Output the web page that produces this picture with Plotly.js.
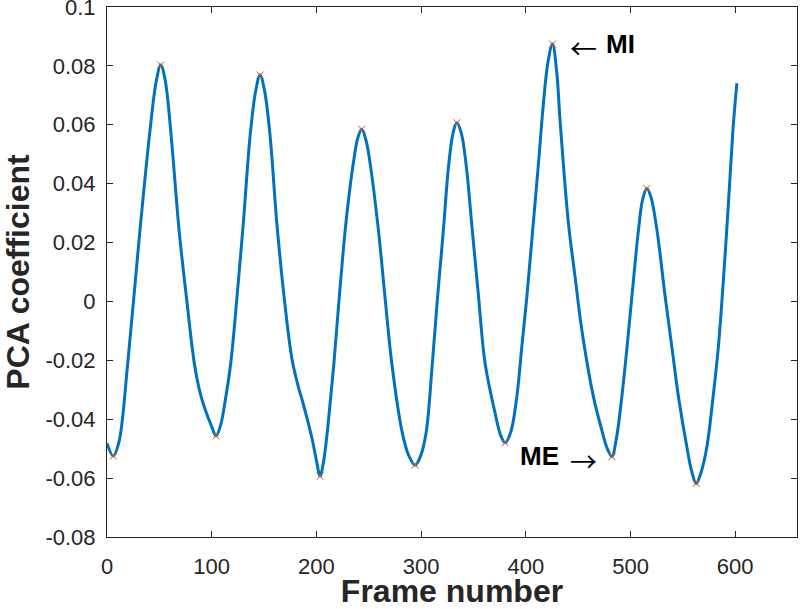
<!DOCTYPE html>
<html>
<head>
<meta charset="utf-8">
<script src="https://cdn.plot.ly/plotly-3.0.1.min.js"></script>
<style>html,body{margin:0;padding:0;background:#fff;}#chart{width:800px;height:609px;}</style>
</head>
<body>
<div id="chart"></div>
<script>
// Curve samples (frame number, PCA coefficient)
const curveFrames = [0, 6, 11.4, 19.8, 31.5, 41.1, 46.8, 51.3, 55.5, 60.8, 68.8, 76, 83.4, 88.9, 94.5, 100, 104.1,
  108.5, 113, 118.5, 124.5, 130.3, 136.6, 142, 146.2, 150.5, 155.7, 162.1, 169, 176.4, 182, 187.6, 192, 196, 200, 203.5,
  207, 210.5, 213.5, 216.5, 221.5, 227.5, 231.5, 235.3, 239.5, 243.3, 247.5, 251.3, 259.2, 265.5, 272, 281.5, 288, 294.3,
  299.5, 304.8, 310.2, 315.5, 321.3, 326.1, 330.5, 334.1, 338.5, 343.6, 348.4, 354.5, 361.1, 370.7, 376, 380.2,
  385.5, 391.4, 396, 401, 406.5, 412.1, 416.5, 421, 425.5, 429.5, 432.8, 440.7, 447, 453.5, 464.6, 472.6, 477.5, 482.2,
  486.5, 491.7, 496.5, 501.3, 507.6, 511.5, 515.6, 519.5, 525.2, 533.1, 539.5, 545.8, 553.8, 558.5, 562.7,
  567, 572.9, 578.5, 584, 591.5, 597.8, 601.6];
const curveValues = [-0.0482, -0.0525, -0.0478, -0.021, 0.0243, 0.0582, 0.0743, 0.0803, 0.0753, 0.0582, 0.0243, 0.001, -0.021, -0.031, -0.0375, -0.0425, -0.0457,
  -0.042, -0.0335, -0.020, 0.003, 0.027, 0.056, 0.0715, 0.0769, 0.0715, 0.0565, 0.027, 0.002, -0.019, -0.028, -0.035, -0.041, -0.0468, -0.054, -0.0593,
  -0.054, -0.044, -0.033, -0.022, 0.000, 0.0243, 0.037, 0.047, 0.0555, 0.0585, 0.0545, 0.0469, 0.0243, 0.0015, -0.021, -0.0437, -0.0522, -0.0556,
  -0.0525, -0.0445, -0.0235, 0.0005, 0.0243, 0.0455, 0.0572, 0.0607, 0.0570, 0.0445, 0.026, 0.003, -0.021, -0.038, -0.0455, -0.048,
  -0.0445, -0.0324, -0.016, 0.0016, 0.024, 0.0469, 0.066, 0.0809, 0.0874, 0.078, 0.061, 0.0265, 0.0085, -0.0097, -0.0324, -0.0437, -0.0497, -0.0527,
  -0.0465, -0.0324, -0.016, 0.0016, 0.0243, 0.0345, 0.0384, 0.0355, 0.0243, 0.0016, -0.0155, -0.0324, -0.0494, -0.0578, -0.0618,
  -0.0585, -0.0494, -0.0335, -0.015, 0.022, 0.0582, 0.0741];

// Detected extrema (red x markers)
const extremaFrames = [6, 51.3, 104.1, 146.2, 203.5, 243.3, 294.3, 334.1, 380.2, 425.5, 482.2, 515.6, 562.7];
const extremaValues = [-0.0525, 0.0803, -0.0457, 0.0769, -0.0593, 0.0585, -0.0556, 0.0607, -0.048, 0.0874, -0.0527, 0.0384, -0.0618];

// Axis ticks
const xTickVals = [0, 100, 200, 300, 400, 500, 600];
const xTickText = ['0', '100', '200', '300', '400', '500', '600'];
const yTickVals = [0.1, 0.08, 0.06, 0.04, 0.02, 0, -0.02, -0.04, -0.06, -0.08];
const yTickText = ['0.1', '0.08', '0.06', '0.04', '0.02', '0', '-0.02', '-0.04', '-0.06', '-0.08'];

// Text labels and their arrows (anchor frame, anchor value)
const labelTexts = ['<b>MI</b>', '<b>ME</b>'];
const labelFrames = [476, 433];
const labelValues = [0.0874, -0.0525];
const labelAnchors = ['left', 'right'];
const arrowTexts = ['\u2190', '\u2192'];
const arrowFrames = [441, 469];
const arrowValues = [0.0863, -0.0540];
const arrowAnchors = ['left', 'right'];

const axisColor = '#262626';
const FONT = 'Liberation Sans, Arial, sans-serif';
const tickFont = {family: FONT, size: 22, color: axisColor};

const traces = [
  {x: curveFrames, y: curveValues, type: 'scatter', mode: 'lines',
   line: {color: '#0072BD', width: 3, shape: 'spline', smoothing: 1}, hoverinfo: 'skip'},
  {x: extremaFrames, y: extremaValues, type: 'scatter', mode: 'markers',
   marker: {symbol: 'x-thin', size: 7, line: {color: '#D95319', width: 1}}, hoverinfo: 'skip'}
];

const annotations = [];
labelTexts.forEach((t, i) => annotations.push({
  x: labelFrames[i], y: labelValues[i], xref: 'x', yref: 'y', text: t, showarrow: false,
  xanchor: labelAnchors[i], yanchor: 'middle', borderpad: 0,
  font: {family: FONT, size: 26, color: '#000000'}
}));
arrowTexts.forEach((t, i) => annotations.push({
  x: arrowFrames[i], y: arrowValues[i], xref: 'x', yref: 'y', text: t, showarrow: false,
  xanchor: arrowAnchors[i], yanchor: 'middle', borderpad: 0,
  font: {family: 'Noto Sans CJK SC, DejaVu Sans, sans-serif', size: 27, color: '#000000'}
}));

const layout = {
  width: 800, height: 609,
  margin: {l: 107, r: 3, t: 7, b: 72, pad: 0},
  paper_bgcolor: '#ffffff', plot_bgcolor: '#ffffff',
  showlegend: false,
  font: {family: FONT, color: axisColor},
  xaxis: {
    range: [0, 659], tickvals: xTickVals, ticktext: xTickText,
    ticks: 'inside', ticklen: 6, tickwidth: 1, tickcolor: axisColor,
    showline: true, linecolor: axisColor, linewidth: 1, mirror: 'ticks',
    showgrid: false, zeroline: false, automargin: false,
    tickfont: tickFont, ticklabelstandoff: 10, ticklabeloverflow: 'allow',
    title: {text: '<b>Frame number</b>', font: {family: FONT, size: 32, color: axisColor}, standoff: 6}
  },
  yaxis: {
    range: [-0.08, 0.1], tickvals: yTickVals, ticktext: yTickText,
    ticks: 'inside', ticklen: 6, tickwidth: 1, tickcolor: axisColor,
    showline: true, linecolor: axisColor, linewidth: 1, mirror: 'ticks',
    showgrid: false, zeroline: false, automargin: false,
    tickfont: tickFont, ticklabelstandoff: 6, ticklabeloverflow: 'allow',
    title: {text: '<b>PCA coefficient</b>', font: {family: FONT, size: 32, color: axisColor}, standoff: 16}
  },
  annotations: annotations
};

Plotly.newPlot('chart', traces, layout, {staticPlot: true, displayModeBar: false});
</script>
</body>
</html>
